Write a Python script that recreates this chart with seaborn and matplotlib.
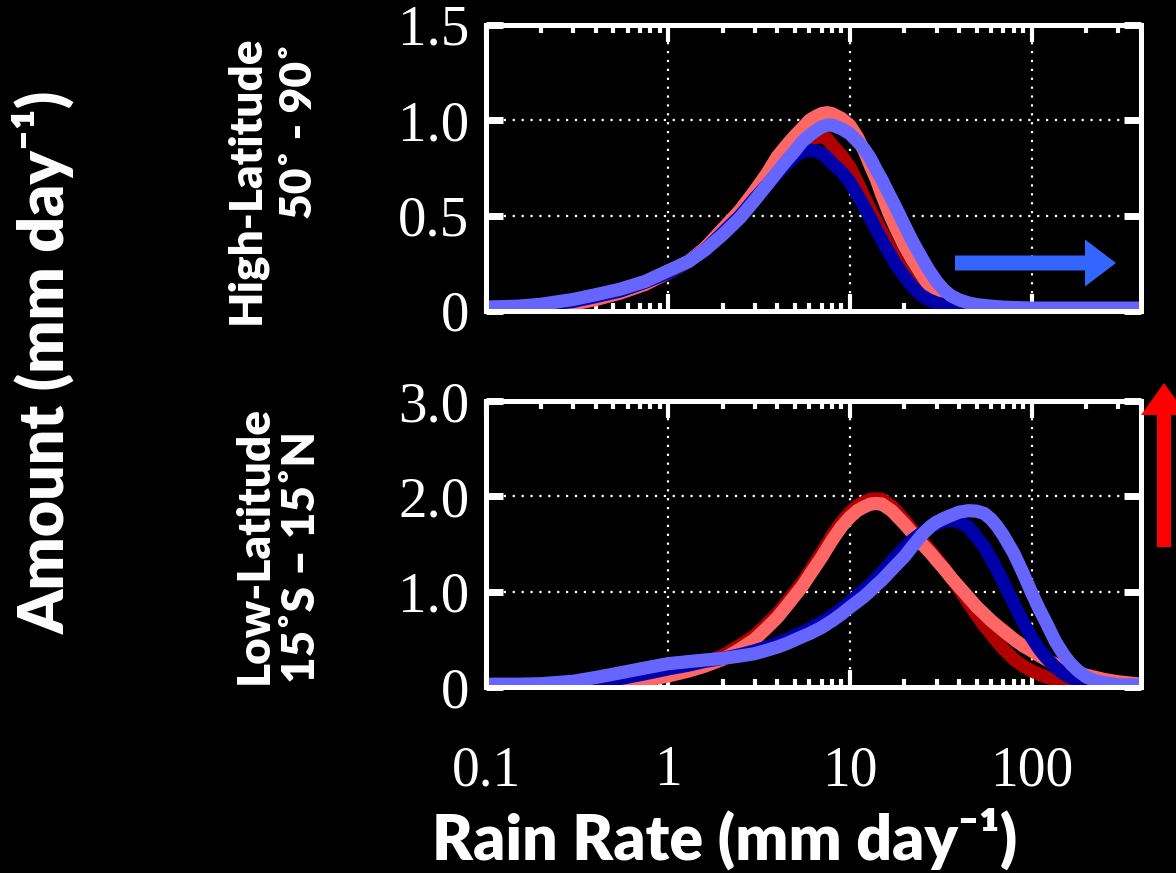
import numpy as np
import pandas as pd
import matplotlib
matplotlib.use("Agg")
import matplotlib.pyplot as plt
import seaborn as sns
from matplotlib.ticker import FixedLocator, LogLocator, NullFormatter
from matplotlib.patches import FancyArrow

# rain rate bins (mm/day) and amount curves
rate_hi = [0.1, 0.15, 0.2, 0.3, 0.4, 0.55, 0.75, 1, 1.3, 1.6, 2, 2.5, 3, 3.5, 4, 4.5,
           5, 5.5, 6, 6.5, 7, 7.5, 8, 9, 10, 11, 12, 13, 14, 15, 16.5, 18, 20, 22,
           24.5, 27, 30, 33, 36, 40, 45, 50, 60, 70, 100, 200, 400]
hi_dark_red = [0.02, 0.02, 0.025, 0.04, 0.06, 0.095, 0.14, 0.20, 0.26, 0.33,
               0.42, 0.52, 0.61, 0.69, 0.76, 0.81, 0.85, 0.88, 0.90, 0.91,
               0.913, 0.905, 0.87, 0.817, 0.756, 0.678, 0.60, 0.53, 0.47, 0.416,
               0.338, 0.27, 0.20, 0.146, 0.098, 0.063, 0.042, 0.03, 0.02, 0.015,
               0.01, 0.01, 0.01, 0.01, 0.01, 0.01, 0.01]
hi_light_red = [0.01, 0.015, 0.02, 0.035, 0.06, 0.095, 0.14, 0.20, 0.26, 0.33,
                0.43, 0.53, 0.63, 0.72, 0.81, 0.87, 0.92, 0.96, 1.00, 1.02,
                1.035, 1.04, 1.035, 1.01, 0.974, 0.913, 0.84, 0.76, 0.69, 0.61,
                0.51, 0.43, 0.34, 0.27, 0.20, 0.14, 0.09, 0.06, 0.04, 0.025,
                0.015, 0.01, 0.01, 0.01, 0.01, 0.01, 0.01]
hi_dark_blue = [0.02, 0.025, 0.03, 0.05, 0.075, 0.105, 0.15, 0.20, 0.26, 0.32,
                0.41, 0.50, 0.59, 0.66, 0.72, 0.77, 0.81, 0.835, 0.843, 0.84,
                0.825, 0.805, 0.775, 0.73, 0.678, 0.61, 0.547, 0.486, 0.425, 0.373,
                0.303, 0.242, 0.181, 0.13, 0.085, 0.06, 0.042, 0.033, 0.025, 0.02,
                0.015, 0.015, 0.01, 0.01, 0.01, 0.01, 0.01]
hi_light_blue = [0.02, 0.025, 0.035, 0.06, 0.085, 0.115, 0.155, 0.21, 0.26, 0.32,
                 0.40, 0.49, 0.58, 0.66, 0.73, 0.79, 0.84, 0.89, 0.92, 0.945,
                 0.965, 0.975, 0.975, 0.956, 0.93, 0.89, 0.85, 0.80, 0.74, 0.69,
                 0.61, 0.54, 0.45, 0.37, 0.29, 0.22, 0.155, 0.11, 0.08, 0.058,
                 0.042, 0.033, 0.025, 0.02, 0.015, 0.015, 0.015]

rate_lo = [0.1, 0.15, 0.2, 0.3, 0.4, 0.55, 0.75, 1, 1.3, 1.6, 2, 2.5, 3, 3.5, 4, 4.5,
           5, 5.5, 6, 7, 8, 9, 10, 11, 12, 13, 14, 15, 17, 20, 22, 25, 28, 30, 33,
           36, 40, 45, 50, 55, 60, 65, 70, 80, 90, 100, 110, 120, 135, 150, 165,
           180, 200, 220, 250, 300, 400]
lo_dark_red = [0.02, 0.02, 0.02, 0.02, 0.03, 0.05, 0.09, 0.14, 0.20, 0.26,
               0.33, 0.44, 0.54, 0.66, 0.77, 0.89, 1.00, 1.10, 1.21, 1.41,
               1.59, 1.73, 1.83, 1.90, 1.94, 1.97, 1.975, 1.97, 1.90, 1.75,
               1.65, 1.53, 1.42, 1.35, 1.25, 1.15, 1.03, 0.88, 0.75, 0.64,
               0.555, 0.47, 0.40, 0.29, 0.22, 0.17, 0.135, 0.105, 0.075, 0.056,
               0.04, 0.03, 0.02, 0.015, 0.01, 0.01, 0.01]
lo_light_red = [0.01, 0.01, 0.01, 0.015, 0.02, 0.04, 0.07, 0.116, 0.168, 0.22,
                0.29, 0.40, 0.50, 0.62, 0.73, 0.85, 0.96, 1.06, 1.17, 1.36,
                1.54, 1.68, 1.78, 1.85, 1.89, 1.92, 1.925, 1.92, 1.85, 1.71,
                1.62, 1.50, 1.40, 1.33, 1.24, 1.15, 1.05, 0.94, 0.84, 0.765,
                0.695, 0.64, 0.59, 0.50, 0.43, 0.38, 0.33, 0.29, 0.24, 0.20,
                0.17, 0.15, 0.125, 0.105, 0.08, 0.055, 0.03]
lo_dark_blue = [0.02, 0.02, 0.02, 0.03, 0.05, 0.09, 0.14, 0.19, 0.23, 0.27,
                0.30, 0.34, 0.38, 0.42, 0.46, 0.50, 0.54, 0.575, 0.61, 0.68,
                0.75, 0.82, 0.89, 0.96, 1.02, 1.08, 1.14, 1.20, 1.32, 1.46,
                1.54, 1.62, 1.68, 1.71, 1.74, 1.75, 1.73, 1.68, 1.57, 1.47,
                1.34, 1.22, 1.10, 0.87, 0.68, 0.52, 0.40, 0.31, 0.21, 0.14,
                0.10, 0.063, 0.04, 0.02, 0.01, 0.01, 0.01]
lo_light_blue = [0.03, 0.03, 0.035, 0.06, 0.10, 0.15, 0.20, 0.245, 0.267, 0.284,
                 0.30, 0.326, 0.35, 0.386, 0.42, 0.456, 0.495, 0.53, 0.56, 0.625,
                 0.695, 0.765, 0.835, 0.895, 0.95, 1.01, 1.07, 1.12, 1.23, 1.37,
                 1.47, 1.60, 1.69, 1.73, 1.77, 1.80, 1.835, 1.85, 1.845, 1.82,
                 1.76, 1.68, 1.59, 1.40, 1.19, 0.99, 0.82, 0.68, 0.48, 0.34,
                 0.24, 0.17, 0.105, 0.07, 0.046, 0.025, 0.02]

runs = ["dark red", "light red", "dark blue", "light blue"]
colours = {"dark red": "#b00000", "light red": "#ff6666",
           "dark blue": "#0000aa", "light blue": "#6666ff"}

hi_ticks = [0, 0.5, 1.0, 1.5]
hi_labels = ["0", "0.5", "1.0", "1.5"]
lo_ticks = [0, 1.0, 2.0, 3.0]
lo_labels = ["0", "1.0", "2.0", "3.0"]
x_ticks = [0.1, 1, 10, 100]
x_labels = ["0.1", "1", "10", "100"]


def make_frame(rate, curves):
    """long table for seaborn: one row per (run, rate)"""
    parts = []
    for name, vals in zip(runs, curves):
        parts.append(pd.DataFrame({"rate": rate, "amount": vals, "run": name}))
    return pd.concat(parts, ignore_index=True)


def style_axes(ax, ymax, yticks, ylabels, show_x):
    ax.set_facecolor("black")
    ax.set_xscale("log")
    ax.set_xlim(0.1, 400)
    ax.set_ylim(0, ymax)
    ax.xaxis.set_major_locator(FixedLocator(x_ticks))
    ax.set_xticklabels(x_labels if show_x else [])
    ax.xaxis.set_minor_locator(LogLocator(base=10, subs=np.arange(2, 10)))
    ax.xaxis.set_minor_formatter(NullFormatter())
    ax.set_yticks(yticks)
    ax.set_yticklabels(ylabels)
    ax.set_xlabel("")
    ax.set_ylabel("")
    for sp in ax.spines.values():
        sp.set_visible(True)
        sp.set_color("white")
        sp.set_linewidth(3.6)
    ax.tick_params(axis="x", which="major", direction="in", length=12, width=3,
                   color="white", labelcolor="white", top=True, bottom=True,
                   labelsize=40, pad=42, labelfontfamily="Liberation Serif")
    ax.tick_params(axis="x", which="minor", direction="in", length=6, width=3,
                   color="white", top=True, bottom=True)
    ax.tick_params(axis="y", which="major", direction="in", length=12, width=5,
                   color="white", labelcolor="white", left=True, right=True,
                   labelsize=41, pad=12, labelfontfamily="Liberation Serif")
    ax.grid(True, which="major", color="white", linestyle=(0, (1, 3)), linewidth=1.6)
    ax.grid(False, which="minor")
    ax.set_axisbelow(True)


sns.set_theme(style="dark")
plt.rcParams["font.family"] = ["Lato", "DejaVu Sans"]

fig = plt.figure(figsize=(11.76, 8.73), dpi=100, facecolor="black")
ax_hi = fig.add_axes([0.4133, 0.6438, 0.557, 0.3276])
ax_lo = fig.add_axes([0.4133, 0.2130, 0.557, 0.3276])

df_hi = make_frame(rate_hi, [hi_dark_red, hi_light_red, hi_dark_blue, hi_light_blue])
df_lo = make_frame(rate_lo, [lo_dark_red, lo_light_red, lo_dark_blue, lo_light_blue])

for ax, df in [(ax_hi, df_hi), (ax_lo, df_lo)]:
    ax.set_xscale("log")
    sns.lineplot(data=df, x="rate", y="amount", hue="run", hue_order=runs,
                 palette=colours, linewidth=9.5, estimator=None, legend=False,
                 ax=ax, solid_joinstyle="round")

style_axes(ax_hi, 1.5, hi_ticks, hi_labels, False)
style_axes(ax_lo, 3.0, lo_ticks, lo_labels, True)

# labels
fig.text(0.037, 0.585, "Amount (mm day⁻¹)", rotation=90, ha="center", va="center",
         color="white", fontsize=45, fontweight="heavy")
fig.text(0.209, 0.794, "High-Latitude", rotation=90, ha="center", va="center",
         color="white", fontsize=33, fontweight="heavy")
fig.text(0.254, 0.850, "50˚ - 90˚", rotation=90, ha="center", va="center",
         color="white", fontsize=32, fontweight="heavy")
fig.text(0.2165, 0.376, "Low-Latitude", rotation=90, ha="center", va="center",
         color="white", fontsize=33, fontweight="heavy")
fig.text(0.256, 0.362, "15˚S – 15˚N", rotation=90, ha="center", va="center",
         color="white", fontsize=33, fontweight="heavy")
fig.text(0.616, 0.015, "Rain Rate (mm day⁻¹)", ha="center", va="baseline",
         color="white", fontsize=45, fontweight="heavy")

# arrows, placed in figure pixels
over = fig.add_axes([0, 0, 1, 1])
over.set_xlim(0, 1176)
over.set_ylim(873, 0)
over.axis("off")
over.add_patch(FancyArrow(955, 263, 161, 0, width=15, head_width=47, head_length=31,
                          length_includes_head=True, color="#3366ff", lw=0))
over.add_patch(FancyArrow(1164, 547, 0, -164, width=14, head_width=46, head_length=32,
                          length_includes_head=True, color="#ff0000", lw=0))

fig.savefig("out.png", dpi=100, facecolor="black")
